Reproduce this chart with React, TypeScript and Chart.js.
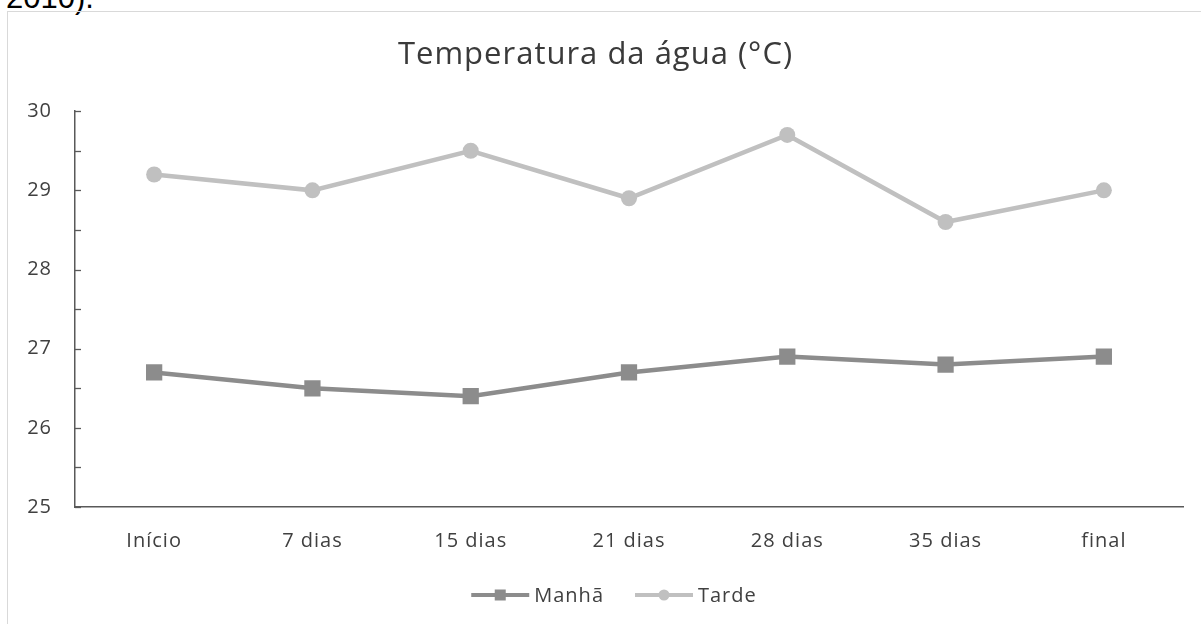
import React, { useEffect, useRef } from "react";
import { Chart, registerables } from "chart.js";

Chart.register(...registerables);

const categories = ["Início", "7 dias", "15 dias", "21 dias", "28 dias", "35 dias", "final"];
const manha = [26.7, 26.5, 26.4, 26.7, 26.9, 26.8, 26.9];
const tarde = [29.2, 29.0, 29.5, 28.9, 29.7, 28.6, 29.0];
const yTicks = [25, 26, 27, 28, 29, 30];

const FONT = "'Open Sans', 'Noto Sans', sans-serif";
const TEXT = "#404040";
const TITLE = "#3a3a3a";
const AXIS = "#595959";
const SPACING = "1px";

const spacing = {
  id: "spacing",
  beforeLayout(chart: any) {
    chart.ctx.letterSpacing = SPACING;
  },
  beforeDraw(chart: any) {
    chart.ctx.letterSpacing = SPACING;
  },
};

const innerTicks = {
  id: "innerTicks",
  afterDraw(chart: any) {
    const y = chart.scales.y;
    const ctx = chart.ctx;
    ctx.save();
    ctx.strokeStyle = AXIS;
    ctx.lineWidth = 1.3;
    for (let v = yTicks[0]; v <= yTicks[yTicks.length - 1] + 1e-9; v += 0.5) {
      const py = Math.round(y.getPixelForValue(v)) + 0.5;
      ctx.beginPath();
      ctx.moveTo(y.right, py);
      ctx.lineTo(y.right + 6, py);
      ctx.stroke();
    }
    ctx.restore();
  },
};

const lineLegend = {
  id: "lineLegend",
  afterDraw(chart: any) {
    const ctx = chart.ctx;
    const ds = chart.data.datasets;
    ctx.save();
    ctx.letterSpacing = SPACING;
    ctx.font = `20px ${FONT}`;
    ctx.textBaseline = "middle";
    const lineLen = 58;
    const gapText = 5;
    const gapItem = 31;
    const widths = ds.map((d: any) => lineLen + gapText + ctx.measureText(d.label).width);
    const total = widths.reduce((a: number, b: number) => a + b, 0) + gapItem * (ds.length - 1);
    let x = 606 - total / 2;
    const yc = 583;
    ds.forEach((d: any, i: number) => {
      ctx.strokeStyle = d.borderColor;
      ctx.lineWidth = 4;
      ctx.beginPath();
      ctx.moveTo(x, yc);
      ctx.lineTo(x + lineLen, yc);
      ctx.stroke();
      ctx.fillStyle = d.backgroundColor;
      const mx = x + lineLen / 2;
      if (d.pointStyle === "rect") {
        ctx.fillRect(mx - 5.5, yc - 5.5, 11, 11);
      } else {
        ctx.beginPath();
        ctx.arc(mx, yc, 5.5, 0, Math.PI * 2);
        ctx.fill();
      }
      ctx.fillStyle = TEXT;
      ctx.fillText(d.label, x + lineLen + gapText, yc + 1);
      x += widths[i] + gapItem;
    });
    ctx.restore();
  },
};

export default function App() {
  const ref = useRef<HTMLCanvasElement | null>(null);
  useEffect(() => {
    if (!ref.current) return;
    const chart = new Chart(ref.current, {
      type: "line",
      data: {
        labels: categories,
        datasets: [
          {
            label: "Manhã",
            data: manha,
            borderColor: "#8c8c8c",
            backgroundColor: "#8c8c8c",
            borderWidth: 4.5,
            pointStyle: "rect",
            pointRadius: 11.5,
            pointBorderWidth: 0,
            tension: 0,
          },
          {
            label: "Tarde",
            data: tarde,
            borderColor: "#c0c0c0",
            backgroundColor: "#c0c0c0",
            borderWidth: 4.5,
            pointStyle: "circle",
            pointRadius: 8,
            pointBorderWidth: 0,
            tension: 0,
          },
        ],
      },
      options: {
        responsive: false,
        animation: false,
        layout: { padding: { left: 0, right: 18, top: 0, bottom: 72 } },
        plugins: {
          legend: { display: false },
          tooltip: { enabled: false },
          title: {
            display: true,
            text: "Temperatura da água (°C)",
            color: TITLE,
            font: { family: FONT, size: 31, weight: "normal", lineHeight: 1.2 },
            padding: { top: 25, bottom: 37 },
          },
        },
        scales: {
          x: {
            offset: true,
            grid: { display: false, drawTicks: false },
            border: { display: true, color: AXIS, width: 1.5 },
            ticks: { color: TEXT, font: { family: FONT, size: 20 }, padding: 22 },
            afterFit(scale: any) {
              scale.height = 45;
            },
          },
          y: {
            min: 25,
            max: 30,
            grid: { display: false, drawTicks: false },
            border: { display: true, color: AXIS, width: 1.5 },
            ticks: { stepSize: 1, color: TEXT, font: { family: FONT, size: 20 }, padding: 23 },
            afterFit(scale: any) {
              scale.width = 67;
            },
          },
        },
      },
      plugins: [spacing, innerTicks, lineLegend],
    });
    return () => chart.destroy();
  }, []);

  return (
    <div style={{ position: "absolute", left: 0, top: 0, width: 1201, height: 624, overflow: "hidden", background: "#fff" }}>
      <div
        style={{
          position: "absolute",
          left: 6,
          top: -18,
          fontFamily: "'Liberation Sans', Arial, sans-serif",
          fontSize: 31,
          lineHeight: "31px",
          color: "#000",
          whiteSpace: "nowrap",
        }}
      >
        2010).
      </div>
      <div
        style={{
          position: "absolute",
          left: 7,
          top: 11,
          width: 1220,
          height: 640,
          border: "1px solid #d9d9d9",
          boxSizing: "border-box",
        }}
      />
      <canvas ref={ref} width={1193} height={612} style={{ position: "absolute", left: 8, top: 12, width: 1193, height: 612 }} />
    </div>
  );
}
